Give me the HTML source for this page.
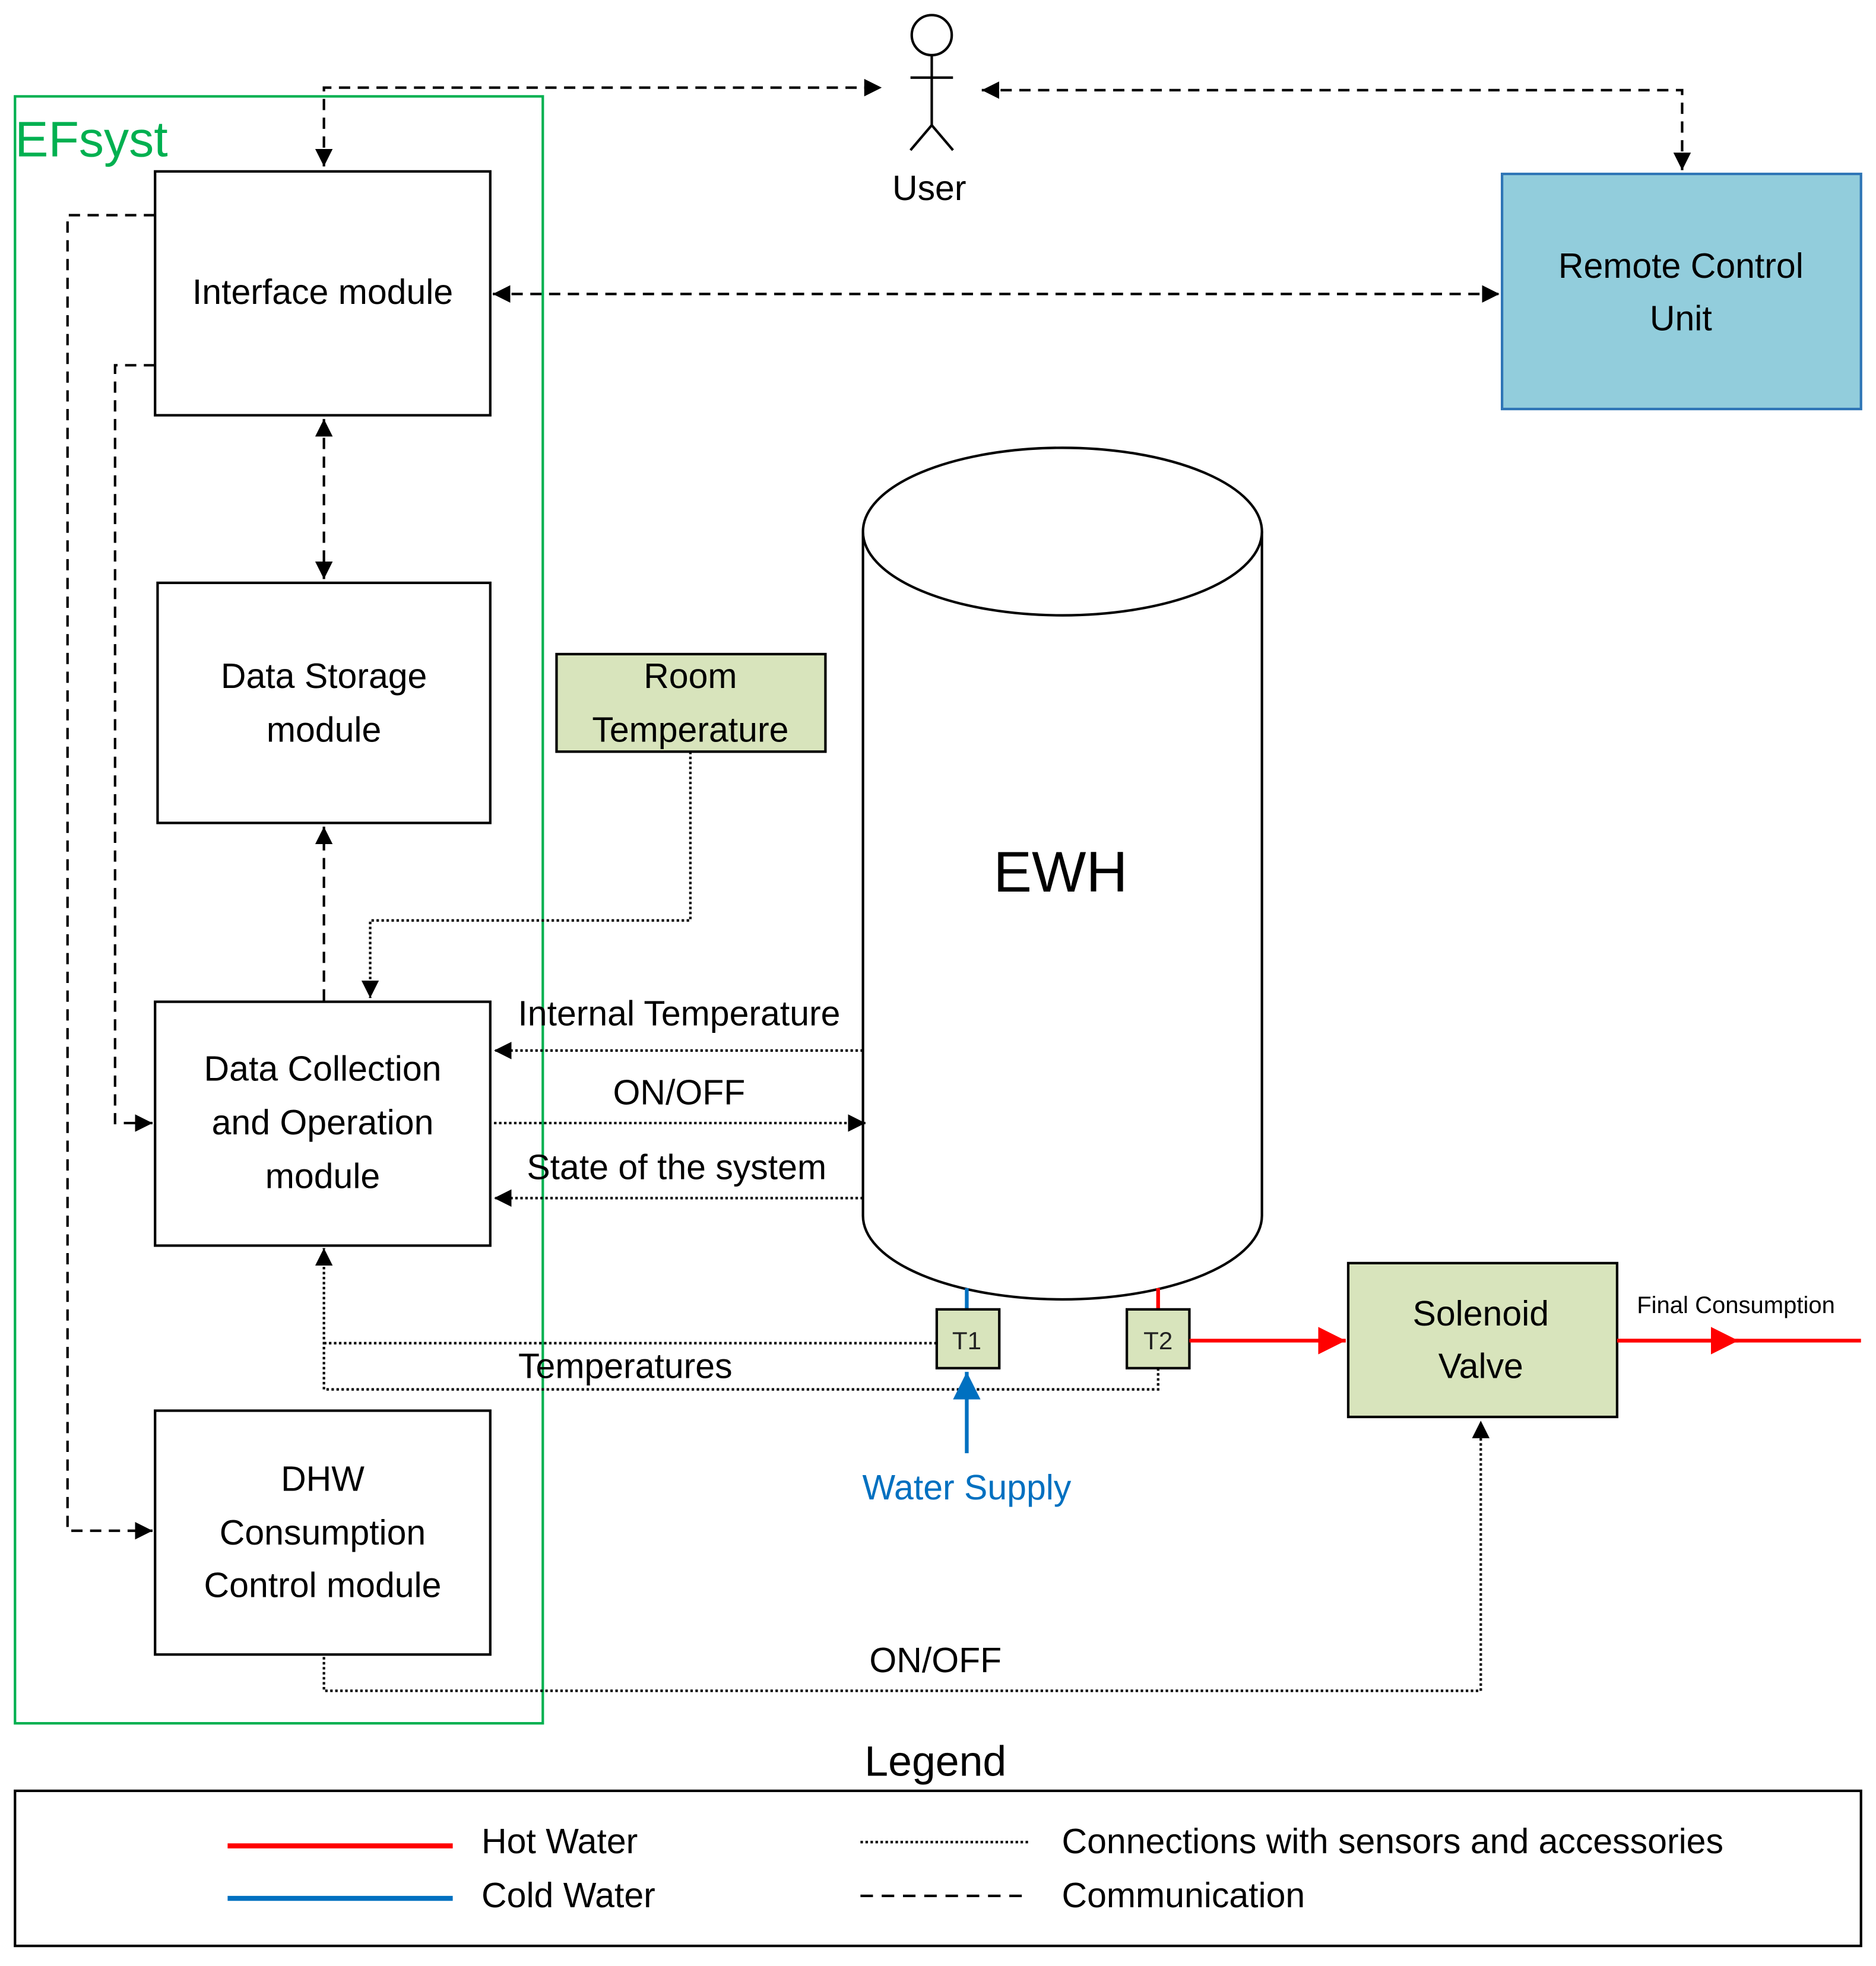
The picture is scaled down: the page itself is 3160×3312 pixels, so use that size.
<!DOCTYPE html>
<html><head><meta charset="utf-8"><style>html,body{margin:0;padding:0;background:#fff}svg{display:block}</style></head>
<body>
<svg width="3160" height="3312" viewBox="0 0 1500 1572" xmlns="http://www.w3.org/2000/svg" font-family="Liberation Sans, sans-serif" fill="none">
<defs>
<marker id="a" viewBox="0 0 10 10" refX="10" refY="5" markerWidth="14" markerHeight="14" markerUnits="userSpaceOnUse" orient="auto-start-reverse"><path d="M0,0L10,5L0,10z" fill="#000"/></marker>
<marker id="r" viewBox="0 0 10 10" refX="10" refY="5" markerWidth="22" markerHeight="22" markerUnits="userSpaceOnUse" orient="auto"><path d="M0,0L10,5L0,10z" fill="#f00"/></marker>
<marker id="b" viewBox="0 0 10 10" refX="10" refY="5" markerWidth="22" markerHeight="22" markerUnits="userSpaceOnUse" orient="auto"><path d="M0,0L10,5L0,10z" fill="#0070c0"/></marker>
</defs>
<rect x="12" y="77" width="422" height="1301" stroke="#00b050" stroke-width="2"/>
<text x="12" y="125" font-size="40" fill="#00b050">EFsyst</text>
<!-- user -->
<g stroke="#000" stroke-width="2"><circle cx="745" cy="28" r="16" fill="#fff"/><line x1="745" y1="44" x2="745" y2="100"/><line x1="728" y1="62" x2="762" y2="62"/><line x1="745" y1="100" x2="728" y2="120"/><line x1="745" y1="100" x2="762" y2="120"/></g>
<text x="743" y="160" font-size="28" fill="#000" text-anchor="middle">User</text>
<g stroke="#000" stroke-width="2" stroke-dasharray="9,6">
<polyline points="259,133 259,70 705,70" marker-start="url(#a)" marker-end="url(#a)"/>
<polyline points="785,72 1345,72 1345,136" marker-start="url(#a)" marker-end="url(#a)"/>
<line x1="394" y1="235" x2="1199" y2="235" marker-start="url(#a)" marker-end="url(#a)"/>
<line x1="259" y1="335" x2="259" y2="463" marker-start="url(#a)" marker-end="url(#a)"/>
<line x1="259" y1="800" x2="259" y2="661" marker-end="url(#a)"/>
<polyline points="124,172 54,172 54,1224 122,1224" marker-end="url(#a)"/>
<polyline points="124,292 92,292 92,898 122,898" marker-end="url(#a)"/>
</g>
<g stroke="#000" stroke-width="2" fill="#fff">
<rect x="124" y="137" width="268" height="195"/>
<rect x="126" y="466" width="266" height="192"/>
<rect x="124" y="801" width="268" height="195"/>
<rect x="124" y="1128" width="268" height="195"/>
</g>
<rect x="1201" y="139" width="287" height="188" fill="#92cddc" stroke="#2e75b6" stroke-width="2"/>
<rect x="445" y="523" width="215" height="78" fill="#d8e4bc" stroke="#000" stroke-width="2"/>
<rect x="1078" y="1010" width="215" height="123" fill="#d8e4bc" stroke="#000" stroke-width="2"/>
<!-- cylinder -->
<path d="M690,425 L690,972 A159.5,67 0 0 0 1009,972 L1009,425" stroke="#000" stroke-width="2" fill="#fff"/>
<ellipse cx="849.5" cy="425" rx="159.5" ry="67" stroke="#000" stroke-width="2" fill="#fff"/>
<text x="848" y="713" font-size="46" fill="#000" text-anchor="middle">EWH</text>
<g fill="#000" font-size="28" text-anchor="middle">
<text x="258" y="243">Interface module</text>
<text x="259" y="550">Data Storage</text><text x="259" y="593">module</text>
<text x="258" y="864">Data Collection</text><text x="258" y="907">and Operation</text><text x="258" y="950">module</text>
<text x="258" y="1192">DHW</text><text x="258" y="1235">Consumption</text><text x="258" y="1277">Control module</text>
<text x="1344" y="222">Remote Control</text><text x="1344" y="264">Unit</text>
<text x="552" y="550">Room</text><text x="552" y="593">Temperature</text>
<text x="1184" y="1060">Solenoid</text><text x="1184" y="1102">Valve</text>
<text x="543" y="820">Internal Temperature</text>
<text x="543" y="883">ON/OFF</text>
<text x="541" y="943">State of the system</text>
<text x="500" y="1102">Temperatures</text>
<text x="748" y="1337">ON/OFF</text>
<text x="748" y="1420" font-size="34">Legend</text>
</g>
<text x="1388" y="1050" font-size="19" fill="#000" text-anchor="middle">Final Consumption</text>
<g stroke="#000" stroke-width="2" stroke-dasharray="2,2">
<polyline points="552,601 552,736 296,736 296,798" marker-end="url(#a)"/>
<line x1="690" y1="840" x2="395" y2="840" marker-end="url(#a)"/>
<line x1="395" y1="898" x2="692" y2="898" marker-end="url(#a)"/>
<line x1="690" y1="958" x2="395" y2="958" marker-end="url(#a)"/>
<line x1="749" y1="1074" x2="259" y2="1074"/>
<polyline points="926,1094 926,1111 259,1111 259,998" marker-end="url(#a)"/>
<polyline points="259,1325 259,1352 1184,1352 1184,1136" marker-end="url(#a)"/>
</g>
<line x1="773" y1="1030" x2="773" y2="1047" stroke="#0070c0" stroke-width="3"/>
<line x1="926" y1="1030" x2="926" y2="1047" stroke="#f00" stroke-width="3"/>
<rect x="749" y="1047" width="50" height="47" fill="#d8e4bc" stroke="#000" stroke-width="2"/>
<rect x="901" y="1047" width="50" height="47" fill="#d8e4bc" stroke="#000" stroke-width="2"/>
<text x="773" y="1079" font-size="20" fill="#222" text-anchor="middle">T1</text>
<text x="926" y="1079" font-size="20" fill="#222" text-anchor="middle">T2</text>
<line x1="773" y1="1162" x2="773" y2="1097" stroke="#0070c0" stroke-width="3" marker-end="url(#b)"/>
<text x="773" y="1199" font-size="28" fill="#0070c0" text-anchor="middle">Water Supply</text>
<line x1="951" y1="1072" x2="1076" y2="1072" stroke="#f00" stroke-width="3" marker-end="url(#r)"/>
<line x1="1293" y1="1072" x2="1488" y2="1072" stroke="#f00" stroke-width="3"/>
<line x1="1293" y1="1072" x2="1390" y2="1072" stroke="#f00" stroke-width="3" marker-end="url(#r)"/>
<rect x="12" y="1432" width="1476" height="124" stroke="#000" stroke-width="2"/>
<line x1="182" y1="1476" x2="362" y2="1476" stroke="#f00" stroke-width="4"/>
<line x1="182" y1="1518" x2="362" y2="1518" stroke="#0070c0" stroke-width="4"/>
<line x1="688" y1="1473" x2="823" y2="1473" stroke="#000" stroke-width="2" stroke-dasharray="2,2"/>
<line x1="688" y1="1516" x2="823" y2="1516" stroke="#000" stroke-width="2" stroke-dasharray="10,7"/>
<g fill="#000" font-size="28">
<text x="385" y="1482">Hot Water</text><text x="385" y="1525">Cold Water</text>
<text x="849" y="1482">Connections with sensors and accessories</text><text x="849" y="1525">Communication</text>
</g>
</svg>
</body></html>
